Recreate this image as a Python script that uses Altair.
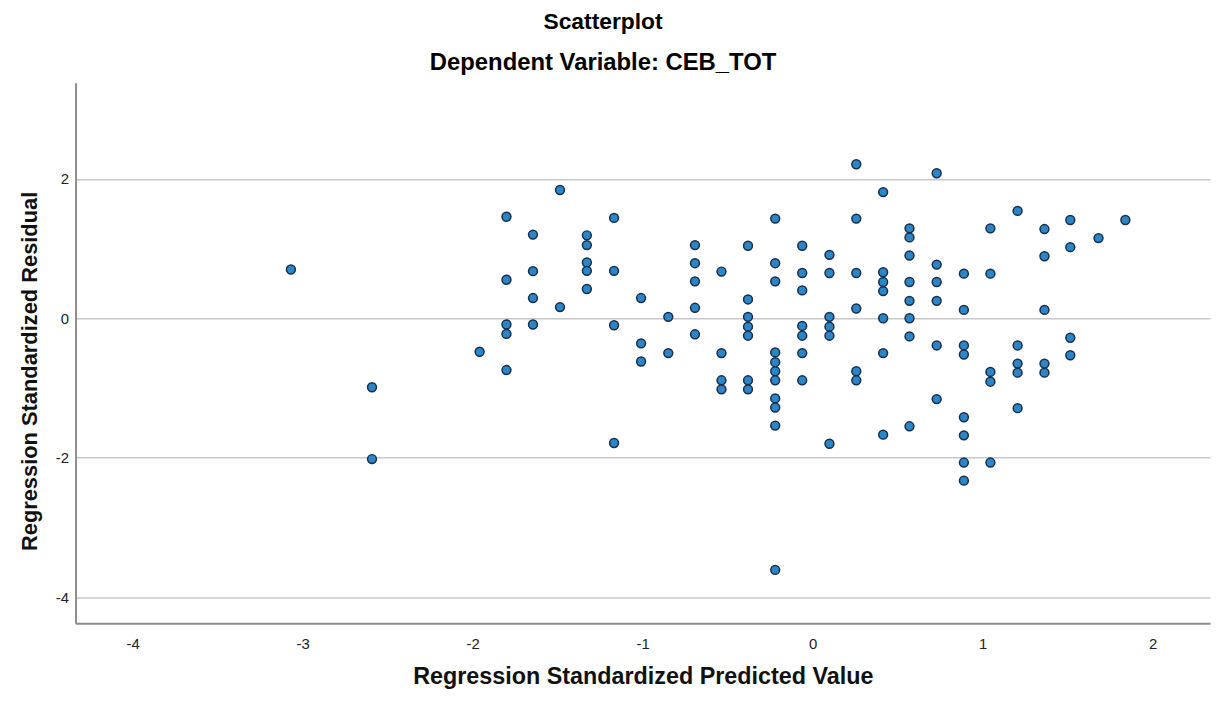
import altair as alt
import pandas as pd

# Predicted value columns (standardized predicted value)
pred_cols = [-3.069, -2.592, -1.959, -1.801, -1.645, -1.486, -1.328, -1.168,
             -1.009, -0.849, -0.692, -0.536, -0.380, -0.220, -0.061, 0.099,
             0.257, 0.415, 0.570, 0.730, 0.890, 1.046, 1.206, 1.364, 1.516,
             1.682, 1.840]

# Standardized residuals observed at each predicted-value column
resid_cols = [
    [0.70],
    [-0.99, -2.02],
    [-0.48],
    [1.457, 0.553, -0.09, -0.224, -0.743],
    [1.20, 0.676, 0.29, -0.09],
    [1.84, 0.16],
    [1.19, 1.05, 0.80, 0.68, 0.42],
    [1.44, 0.68, -0.10, -1.79],
    [0.29, -0.36, -0.62],
    [0.02, -0.50],
    [1.05, 0.79, 0.53, 0.15, -0.23],
    [0.67, -0.50, -0.89, -1.02],
    [1.04, 0.27, 0.02, -0.12, -0.25, -0.89, -1.02],
    [1.43, 0.79, 0.53, -0.49, -0.63, -0.76, -0.89, -1.15, -1.28, -1.54, -3.61],
    [1.04, 0.65, 0.40, -0.11, -0.25, -0.50, -0.89],
    [0.91, 0.65, 0.02, -0.12, -0.25, -1.80],
    [2.21, 1.43, 0.65, 0.14, -0.76, -0.89],
    [1.81, 0.66, 0.52, 0.39, 0.00, -0.50, -1.67],
    [1.29, 1.16, 0.90, 0.52, 0.25, 0.00, -0.26, -1.55],
    [2.08, 0.77, 0.52, 0.25, -0.39, -1.16],
    [0.64, 0.12, -0.39, -0.52, -1.42, -1.68, -2.07, -2.33],
    [1.29, 0.64, -0.77, -0.91, -2.07],
    [1.54, -0.39, -0.65, -0.78, -1.29],
    [1.28, 0.89, 0.12, -0.65, -0.78],
    [1.41, 1.02, -0.28, -0.53],
    [1.15],
    [1.41],
]

x_ticks = [-4, -3, -2, -1, 0, 1, 2]
y_ticks = [-4, -2, 0, 2]

rows = []
for xv, ys in zip(pred_cols, resid_cols):
    for yv in ys:
        rows.append({"pred": xv, "resid": yv})
df = pd.DataFrame(rows)

FONT = "Liberation Sans"

chart = alt.Chart(df).mark_point(
    filled=True, shape="circle", size=80,
    fill="#2b86c8", stroke="#1a2d48", strokeWidth=1.5, opacity=1
).encode(
    x=alt.X("pred:Q",
            scale=alt.Scale(domain=[-4.336, 2.338], nice=False, zero=False),
            axis=alt.Axis(values=x_ticks, grid=False, ticks=False,
                          labelExpr="toString(datum.value)",
                          title="Regression Standardized Predicted Value",
                          titleFontSize=23.5, titleFont=FONT, titleFontWeight="bold",
                          titleColor="#111", titleY=61, titleBaseline="alphabetic",
                          labelFont=FONT, labelFontSize=15, labelColor="#222",
                          labelPadding=13, domainColor="#8c8c8c", domainWidth=2)),
    y=alt.Y("resid:Q",
            scale=alt.Scale(domain=[-4.375, 3.378], nice=False, zero=False),
            axis=alt.Axis(values=y_ticks, grid=True, gridColor="#c8c8c8",
                          gridWidth=1.5, ticks=False,
                          labelExpr="toString(datum.value)",
                          title="Regression Standardized Residual",
                          titleFontSize=22, titleFont=FONT, titleFontWeight="bold",
                          titleColor="#111", titleX=-46, titleY=290,
                          titleAngle=270, titleAlign="center", titleBaseline="middle",
                          labelFont=FONT, labelFontSize=15, labelColor="#222",
                          labelPadding=7, domainColor="#8c8c8c", domainWidth=2)),
).properties(
    width=1142,
    height=544,
    autosize=alt.AutoSizeParams(type="none"),
    padding={"left": 68, "top": 73, "right": 3, "bottom": 77},
    title=alt.TitleParams(
        text="Scatterplot",
        subtitle="Dependent Variable: CEB_TOT",
        font=FONT, fontSize=23, fontWeight="bold", color="#000",
        subtitleFont=FONT, subtitleFontSize=24, subtitleFontWeight="bold",
        subtitleColor="#000", subtitlePadding=17,
        anchor="middle", frame="group", dx=-40, offset=8,
    ),
).configure_view(stroke=None)

chart.save("out.html", embed_options={"renderer": "svg", "actions": False})
